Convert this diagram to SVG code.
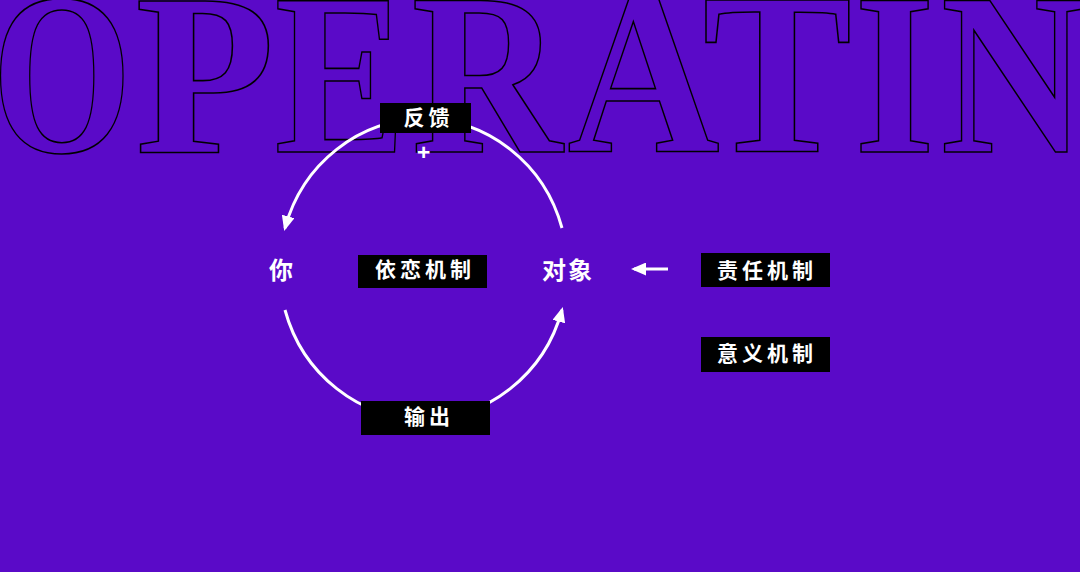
<svg xmlns="http://www.w3.org/2000/svg" width="1080" height="572" viewBox="0 0 1080 572">
<defs>
<style>
.bg{fill:#5a0ac8}
.big{font-family:"Liberation Serif","Times New Roman",serif;font-weight:bold;font-size:232px;fill:none;stroke:#000;stroke-width:1.6;stroke-linejoin:miter}
.box{fill:#000}
.lbl{font-family:"Noto Sans CJK SC","Noto Sans",sans-serif;font-size:21px;font-weight:bold;fill:#fff;text-anchor:middle;letter-spacing:4px}
.node{font-family:"Noto Sans CJK SC","Noto Sans",sans-serif;font-size:24px;font-weight:bold;fill:#fff;text-anchor:middle;letter-spacing:2px}
.conn{fill:none;stroke:#fff;stroke-width:3}
.plus{font-family:"Noto Sans","DejaVu Sans",sans-serif;font-size:24px;font-weight:bold;fill:#fff;text-anchor:middle}
</style>
<marker id="ah" viewBox="0 0 15 13" refX="12" refY="6.5" markerWidth="15" markerHeight="13" markerUnits="userSpaceOnUse" orient="auto">
<path d="M0,0 L15,6.5 L0,13 z" fill="#fff"/>
</marker>
</defs>
<rect class="bg" x="0" y="0" width="1080" height="572"/>
<g id="backdrop-title" class="big">
<text transform="translate(-8.2,152) scale(0.776,1)">O</text>
<text transform="translate(135.3,152) scale(0.985,1)">P</text>
<text transform="translate(274.5,152) scale(0.853,1)">E</text>
<text transform="translate(411.6,152) scale(0.9,1)">R</text>
<text transform="translate(567.2,152) scale(0.91,1)">A</text>
<text transform="translate(702.5,152) scale(0.967,1)">T</text>
<text transform="translate(854,152) scale(0.898,1)">I</text>
<text transform="translate(940.7,152) scale(0.87,1)">N</text>
</g>
<g id="connectors">
<path class="conn" d="M562,228 A144,150 0 0 0 285,228" marker-end="url(#ah)"/>
<path class="conn" d="M285,310 A144,150 0 0 0 562,310" marker-end="url(#ah)"/>
<line class="conn" x1="668" y1="269" x2="634" y2="269" marker-end="url(#ah)"/>
</g>
<g id="node-feedback">
<rect class="box" x="380" y="103" width="91" height="30"/>
<text class="lbl" x="428.5" y="124.5">反馈</text>
<text class="plus" x="423.5" y="160.5">+</text>
</g>
<g id="node-you">
<text class="node" x="282" y="278.5">你</text>
</g>
<g id="node-dependency">
<rect class="box" x="358" y="255" width="129" height="33"/>
<text class="lbl" x="425" y="277">依恋机制</text>
</g>
<g id="node-object">
<text class="node" x="568" y="278.5">对象</text>
</g>
<g id="node-output">
<rect class="box" x="361" y="401" width="129" height="34"/>
<text class="lbl" x="429" y="424">输出</text>
</g>
<g id="node-responsibility">
<rect class="box" x="701" y="253" width="129" height="34"/>
<text class="lbl" x="767" y="278">责任机制</text>
</g>
<g id="node-meaning">
<rect class="box" x="701" y="337" width="129" height="35"/>
<text class="lbl" x="767" y="361">意义机制</text>
</g>
</svg>
